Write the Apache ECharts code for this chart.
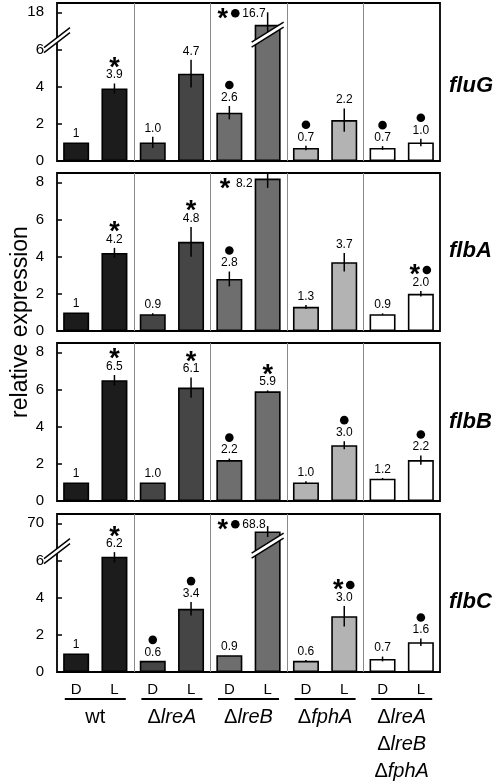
<!DOCTYPE html>
<html><head><meta charset="utf-8">
<script src="https://cdn.jsdelivr.net/npm/echarts@6/dist/echarts.min.js"></script>
<style>html,body{margin:0;padding:0;background:#fff}#c{width:498px;height:783px}</style>
</head><body><div id="c"></div>
<script>
// ---------- data ----------
const conditions = ['D','L','D','L','D','L','D','L','D','L'];
const strains = ['wt','ΔlreA','ΔlreB','ΔfphA','ΔlreA ΔlreB ΔfphA'];
const genes = ['fluG','flbA','flbB','flbC'];

const fluG      = [1, 3.9, 1.0, 4.7, 2.6, 16.7, 0.7, 2.2, 0.7, 1.0];
const fluGErr   = [0, 0.27, 0.3, 0.75, 0.36, 1.3, 0.12, 0.63, 0.1, 0.2];
const fluGMarks = ['', '*', '', '', '●', '*●', '●', '', '●', '●'];

const flbA      = [1, 4.2, 0.9, 4.8, 2.8, 8.2, 1.3, 3.7, 0.9, 2.0];
const flbAErr   = [0, 0.27, 0.05, 0.8, 0.4, 0.5, 0.1, 0.5, 0.05, 0.15];
const flbAMarks = ['', '*', '', '*', '●', '*', '', '', '', '*●'];

const flbB      = [1, 6.5, 1.0, 6.1, 2.2, 5.9, 1.0, 3.0, 1.2, 2.2];
const flbBErr   = [0, 0.28, 0, 0.55, 0.08, 0.05, 0.06, 0.22, 0.04, 0.25];
const flbBMarks = ['', '*', '', '*', '●', '*', '', '●', '', '●'];

const flbC      = [1, 6.2, 0.6, 3.4, 0.9, 68.8, 0.6, 3.0, 0.7, 1.6];
const flbCErr   = [0, 0.3, 0, 0.36, 0, 0.8, 0.04, 0.55, 0.13, 0.2];
const flbCMarks = ['', '*', '●', '●', '', '*●', '', '*●', '', '●'];

const yTicks = [0, 2, 4, 6, 8];
const fluGTickLabels = ['0', '2', '4', '6', '18'];
const flbATickLabels = ['0', '2', '4', '6', '8'];
const flbBTickLabels = ['0', '2', '4', '6', '8'];
const flbCTickLabels = ['0', '2', '4', '6', '70'];

// broken-axis scale (data value -> drawn value), piecewise linear
const fluGBreak = [[0, 0], [6.45, 6.45], [15.3, 6.6], [18, 8]];
const flbCBreak = [[0, 0], [6.45, 6.45], [66.2, 6.6], [70, 8]];

// ---------- styling / layout ----------
const FONT = 'Liberation Sans, Arial, Helvetica, sans-serif';
const groupColors = ['#1c1c1c', '#454545', '#6e6e6e', '#b3b3b3', '#ffffff'];
const GL = 57, GW = 383, GH = 158;
const tops = [3, 173, 343, 514];
const YMAX = 8.5;

const panels = [
  {values: fluG, err: fluGErr, marks: fluGMarks, ticks: fluGTickLabels, brk: fluGBreak},
  {values: flbA, err: flbAErr, marks: flbAMarks, ticks: flbATickLabels, brk: null},
  {values: flbB, err: flbBErr, marks: flbBMarks, ticks: flbBTickLabels, brk: null},
  {values: flbC, err: flbCErr, marks: flbCMarks, ticks: flbCTickLabels, brk: flbCBreak}
];

function toDisp(v, brk) {
  if (!brk) return v;
  for (let i = 1; i < brk.length; i++) {
    const [x0, y0] = brk[i - 1], [x1, y1] = brk[i];
    if (v <= x1 || i === brk.length - 1) return y0 + (v - x0) * (y1 - y0) / (x1 - x0);
  }
  return v;
}
function fmtVal(v, j) { return j === 0 ? String(v) : v.toFixed(1); }

const mctx = document.createElement('canvas').getContext('2d');
function textW(s, font) { mctx.font = font; return mctx.measureText(s).width; }

function slash(x, y, dx, dy) {
  const g = 5;
  return [
    {type: 'polygon', shape: {points: [[x - dx, y + dy + g / 2], [x + dx, y - dy + g / 2], [x + dx, y - dy - g / 2], [x - dx, y + dy - g / 2]]}, style: {fill: '#fff'}},
    {type: 'line', shape: {x1: x - dx, y1: y + dy + g / 2, x2: x + dx, y2: y - dy + g / 2}, style: {stroke: '#000', lineWidth: 1.4}},
    {type: 'line', shape: {x1: x - dx, y1: y + dy - g / 2, x2: x + dx, y2: y - dy - g / 2}, style: {stroke: '#000', lineWidth: 1.4}}
  ];
}
const VAL_FONT_SIZE = 12;
function valText(x, y, s, align) {
  return {type: 'text', x: x, y: y, style: {text: s, fontSize: VAL_FONT_SIZE, fontFamily: FONT, fill: '#000', align: align || 'center', verticalAlign: 'middle'}};
}
function star(x, y) {
  return {type: 'text', x: x, y: y + 6, style: {text: '*', fontSize: 27, fontWeight: 'bold', fontFamily: FONT, fill: '#000', align: 'center', verticalAlign: 'middle'}};
}
function dot(x, y) {
  return {type: 'circle', shape: {cx: x, cy: y, r: 4.3}, style: {fill: '#000'}};
}

function makeRender(p) {
  return function (params, api) {
    const j = api.value(0);
    const cs = params.coordSys;
    const bw = api.size([1, 0])[0];
    const cx = api.coord([j, api.value(1)])[0];
    const lo = api.coord([j, api.value(2)])[1];
    const hi = Math.max(api.coord([j, api.value(3)])[1], cs.y);
    const ch = [];
    // strain group separator on the left edge of each D bar (except the first)
    if (j > 0 && j % 2 === 0) {
      const sx = Math.round(cx - bw / 2) + 0.5;
      ch.push({type: 'line', shape: {x1: sx, y1: cs.y, x2: sx, y2: cs.y + cs.height}, style: {stroke: '#8a8a8a', lineWidth: 1}});
    }
    if (hi < lo - 0.5) ch.push({type: 'line', shape: {x1: cx, y1: lo, x2: cx, y2: hi}, style: {stroke: '#000', lineWidth: 1.5}});
    const broken = p.brk && p.values[j] > p.brk[1][0];
    if (p.brk && j === 0) ch.push(...slash(cs.x, api.coord([0, 6.5])[1], 13, 10));
    if (broken) ch.push(...slash(cx, api.coord([0, 6.8])[1], 16, 10));
    const s = fmtVal(p.values[j], j);
    const mk = p.marks[j];
    let ly = hi - 8.5;
    if (ly - 6 > cs.y) {
      ch.push(valText(cx, ly, s));
      const my = ly - 12.5;
      if (mk === '*') ch.push(star(cx, my));
      else if (mk === '●') ch.push(dot(cx, my));
      else if (mk === '*●') { ch.push(star(cx - 6, my)); ch.push(dot(cx + 6, my)); }
    } else {
      ly = api.coord([0, 7.95])[1];
      const R = broken ? cx - 2 : cx - bw * 0.34 - 2;
      ch.push(valText(R, ly, s, 'right'));
      const w = textW(s, VAL_FONT_SIZE + 'px ' + FONT);
      if (mk.indexOf('●') >= 0) {
        const dxp = R - w - 7;
        ch.push(dot(dxp, ly));
        if (mk.indexOf('*') >= 0) ch.push(star(dxp - 12.5, ly));
      } else if (mk === '*') {
        ch.push(star(R - w - 11, ly));
      }
    }
    return {type: 'group', children: ch};
  };
}

// ---------- option ----------
const grid = [], xAxis = [], yAxis = [], series = [], title = [];
const geneTitleTops = [70, 235, 406, 586];
panels.forEach((p, i) => {
  grid.push({left: GL, top: tops[i], width: GW, height: GH, show: true, borderColor: '#000', borderWidth: 1.8, backgroundColor: 'transparent'});
  xAxis.push({
    type: 'category', gridIndex: i, data: conditions, boundaryGap: true,
    axisLine: {show: false}, axisTick: {show: false},
    axisLabel: {show: i === 3, interval: 0, margin: 10, fontSize: 15, color: '#000', fontFamily: FONT},
    splitLine: {show: false}
  });
  yAxis.push({
    type: 'value', gridIndex: i, min: 0, max: YMAX, interval: 2,
    axisLine: {show: false},
    axisTick: {show: true, inside: true, length: 5, lineStyle: {color: '#000', width: 1.5}},
    axisLabel: {margin: 13, fontSize: 15, color: '#000', fontFamily: FONT, showMaxLabel: false,
      formatter: (v) => { const k = yTicks.indexOf(v); return k >= 0 ? p.ticks[k] : ''; }},
    splitLine: {show: false}
  });
  series.push({
    type: 'bar', xAxisIndex: i, yAxisIndex: i, barWidth: 26, animation: false,
    data: p.values.map((v, j) => ({value: toDisp(v, p.brk), itemStyle: {color: groupColors[Math.floor(j / 2)], borderColor: '#000', borderWidth: 1.6}}))
  });
  series.push({
    type: 'custom', xAxisIndex: i, yAxisIndex: i, animation: false, z: 5,
    renderItem: makeRender(p),
    data: p.values.map((v, j) => [j, toDisp(v, p.brk), toDisp(v - p.err[j], p.brk), toDisp(v + p.err[j], p.brk)])
  });
  title.push({text: genes[i], left: 444, top: geneTitleTops[i],
    textStyle: {fontSize: 22, fontStyle: 'italic', fontWeight: 'bold', color: '#000', fontFamily: FONT}});
});

// strain group labels under the bottom panel
xAxis.push({
  type: 'category', gridIndex: 3, data: strains, position: 'bottom', offset: 0,
  axisLine: {show: false}, axisTick: {show: false}, splitLine: {show: false},
  axisLabel: {
    interval: 0, margin: 26, color: '#000',
    formatter: (v) => {
      const parts = v.split(' ').map(s => s[0] === 'Δ' ? '{d|Δ}{it|' + s.slice(1) + '}' : '{n|' + s + '}');
      return '{ln| }\n{sp| }\n' + parts.join('\n');
    },
    rich: {
      ln: {width: 61, height: 2, lineHeight: 2, backgroundColor: '#000', fontSize: 1},
      sp: {height: 4, lineHeight: 4, fontSize: 1},
      n: {fontSize: 20, lineHeight: 27, fontFamily: FONT, color: '#000'},
      d: {fontSize: 20, lineHeight: 27, fontFamily: FONT, color: '#000'},
      it: {fontSize: 20, lineHeight: 27, fontFamily: FONT, fontStyle: 'italic', color: '#000'}
    }
  }
});

const chart = echarts.init(document.getElementById('c'), null, {renderer: 'canvas'});
chart.setOption({
  animation: false,
  backgroundColor: '#fff',
  grid, xAxis, yAxis, series, title,
  graphic: [{
    type: 'text', x: 21, y: 322, rotation: Math.PI / 2,
    style: {text: 'relative expression', fontSize: 23, fontFamily: FONT, fill: '#000', align: 'center', verticalAlign: 'middle'}
  }]
});
</script></body></html>
